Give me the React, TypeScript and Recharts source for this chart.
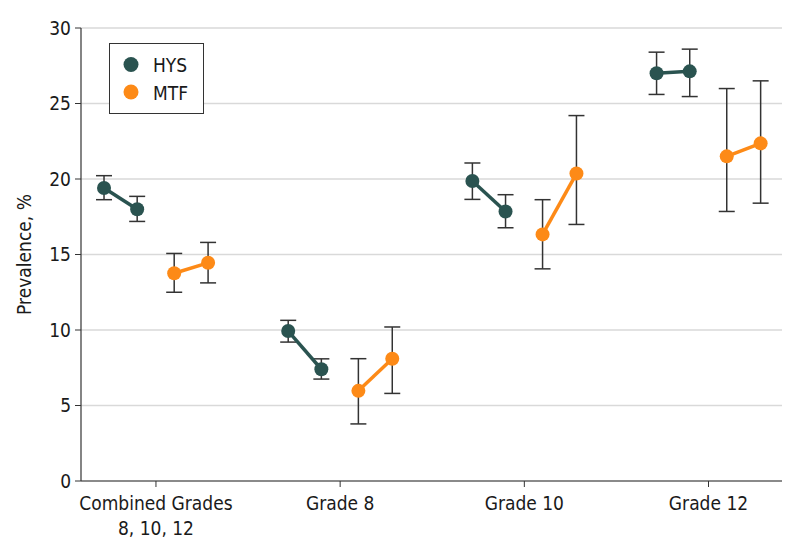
import React from 'react';
import { ScatterChart, Scatter, XAxis, YAxis, CartesianGrid, ErrorBar } from 'recharts';

const categories = ['Combined Grades|8, 10, 12', 'Grade 8', 'Grade 10', 'Grade 12'];
const seriesNames = ['HYS', 'MTF'];
const seriesColors = ['#2a5350', '#fd8a17'];

// HYS estimates (first and second survey point per category)
const hysFirst = [19.4, 9.93, 19.87, 27.0];
const hysSecond = [18.0, 7.4, 17.85, 27.13];
const hysFirstLow = [18.63, 9.2, 18.65, 25.6];
const hysFirstHigh = [20.22, 10.64, 21.06, 28.4];
const hysSecondLow = [17.19, 6.75, 16.77, 25.46];
const hysSecondHigh = [18.85, 8.09, 18.96, 28.6];

// MTF estimates
const mtfFirst = [13.76, 5.97, 16.33, 21.5];
const mtfSecond = [14.45, 8.1, 20.36, 22.36];
const mtfFirstLow = [12.5, 3.78, 14.05, 17.85];
const mtfFirstHigh = [15.07, 8.1, 18.63, 25.99];
const mtfSecondLow = [13.12, 5.8, 16.99, 18.4];
const mtfSecondHigh = [15.8, 10.2, 24.2, 26.5];

const yTicks = [0, 5, 10, 15, 20, 25, 30];

const OFFSETS = [[-0.282, -0.102], [0.099, 0.283]];
const FONT = '"DejaVu Sans Condensed", "Liberation Sans Narrow", "DejaVu Sans", sans-serif';

type Pt = { x: number; y: number; err: [number, number] };

function pair(i: number, s: number, v1: number, l1: number, h1: number, v2: number, l2: number, h2: number): Pt[] {
  return [
    { x: i + OFFSETS[s][0], y: v1, err: [v1 - l1, h1 - v1] },
    { x: i + OFFSETS[s][1], y: v2, err: [v2 - l2, h2 - v2] },
  ];
}

const pairs: { s: number; data: Pt[] }[] = [];
categories.forEach((_, i) => {
  pairs.push({ s: 0, data: pair(i, 0, hysFirst[i], hysFirstLow[i], hysFirstHigh[i], hysSecond[i], hysSecondLow[i], hysSecondHigh[i]) });
  pairs.push({ s: 1, data: pair(i, 1, mtfFirst[i], mtfFirstLow[i], mtfFirstHigh[i], mtfSecond[i], mtfSecondLow[i], mtfSecondHigh[i]) });
});

const XTick = (props: any) => {
  const { x, y, payload } = props;
  const lines = categories[payload.value].split('|');
  return (
    <text x={x} y={y} textAnchor="middle" fontSize={19} fill="#1a1a1a" fontFamily={FONT}>
      {lines.map((l, k) => (
        <tspan key={k} x={x} dy={k === 0 ? 21 : 24.5}>{l}</tspan>
      ))}
    </text>
  );
};

const LegendBox = () => (
  <div style={{ position: 'absolute', left: 109, top: 43, width: 95, height: 71, border: '1px solid #333', boxSizing: 'border-box', background: '#fff' }}>
    <svg width={95} height={71} style={{ position: 'absolute', left: -1, top: -1 }}>
      {seriesNames.map((n, k) => (
        <g key={n}>
          <circle cx={22} cy={21.5 + k * 27.5} r={7.5} fill={seriesColors[k]} />
          <text x={44} y={29 + k * 27.5} fontSize={19} fill="#1a1a1a" fontFamily={FONT}>{n}</text>
        </g>
      ))}
    </svg>
  </div>
);

export default function App() {
  return (
    <div style={{ position: 'absolute', left: 0, top: 0, width: 794, height: 556, fontFamily: FONT, background: '#fff' }}>
      <ScatterChart width={794} height={556} margin={{ top: 28, right: 12, bottom: 15, left: 0 }}>
        <CartesianGrid vertical={false} stroke="#d9d9d9" strokeWidth={1.5} />
        <XAxis
          type="number"
          dataKey="x"
          domain={[-0.407, 3.399]}
          ticks={[0, 1, 2, 3]}
          allowDataOverflow
          height={60}
          tick={<XTick />}
          tickSize={6}
          tickLine={{ stroke: '#333' }}
          axisLine={{ stroke: '#333', strokeWidth: 1.2 }}
        />
        <YAxis
          type="number"
          dataKey="y"
          domain={[0, 30]}
          ticks={yTicks}
          width={81}
          tickSize={6}
          tickMargin={4}
          tick={{ fontSize: 19, fill: '#1a1a1a', fontFamily: FONT }}
          tickLine={{ stroke: '#333' }}
          axisLine={{ stroke: '#333', strokeWidth: 1.2 }}
          label={{ value: 'Prevalence, %', angle: -90, position: 'insideLeft', offset: 24, textAnchor: 'middle', fontSize: 19, fill: '#1a1a1a', fontFamily: FONT }}
        />
        {pairs.map((p, k) => (
          <Scatter
            key={k}
            name={seriesNames[p.s]}
            data={p.data}
            fill={seriesColors[p.s]}
            line={{ stroke: seriesColors[p.s], strokeWidth: 3.5 }}
            shape={(props: any) => <circle cx={props.cx} cy={props.cy} r={7} fill={seriesColors[p.s]} />}
            isAnimationActive={false}
          >
            <ErrorBar dataKey="err" direction="y" width={8} stroke="#333" strokeWidth={1.5} isAnimationActive={false} />
          </Scatter>
        ))}
      </ScatterChart>
      <LegendBox />
    </div>
  );
}
